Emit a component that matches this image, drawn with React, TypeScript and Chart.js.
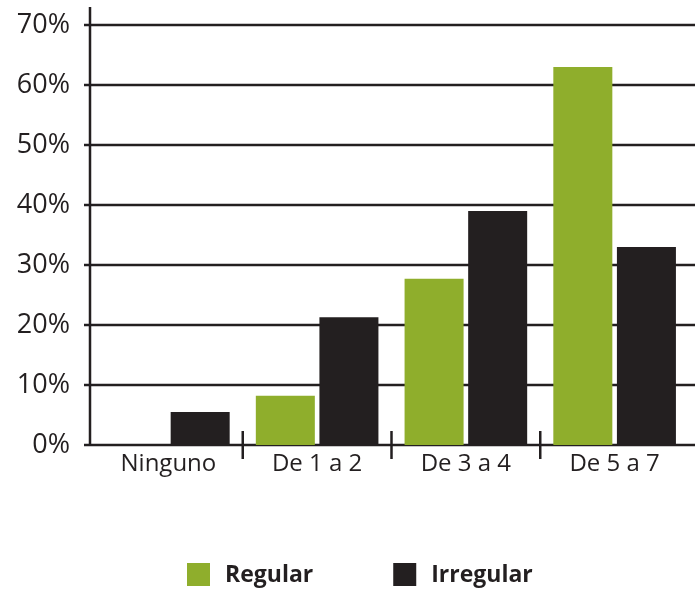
import React, { useEffect, useRef } from "react";
import { Chart, registerables } from "chart.js";

Chart.register(...registerables);

const categories = ["Ninguno", "De 1 a 2", "De 3 a 4", "De 5 a 7"];
const regularValues = [0, 8.2, 27.7, 63.0];
const irregularValues = [5.5, 21.3, 39.0, 33.0];
const yTickValues = [0, 10, 20, 30, 40, 50, 60, 70];
const seriesNames = ["Regular", "Irregular"];
const seriesColors = ["#8fae2c", "#231f20"];

const INK = "#231f20";
const FONT = "'Open Sans', 'Noto Sans', sans-serif";

const framePlugin = {
  id: "frame",
  beforeDatasetsDraw(chart: any) {
    const { ctx, chartArea, scales } = chart;
    const y = scales.y;
    const x = scales.x;
    ctx.save();
    ctx.strokeStyle = INK;
    ctx.lineWidth = 2.5;
    yTickValues.forEach((v) => {
      const py = Math.round(y.getPixelForValue(v));
      ctx.beginPath();
      ctx.moveTo(chartArea.left - 10, py);
      ctx.lineTo(chart.width, py);
      ctx.stroke();
    });
    const ax = chartArea.left - 4;
    ctx.beginPath();
    ctx.moveTo(ax, chartArea.top - 1);
    ctx.lineTo(ax, y.getPixelForValue(0) + 1);
    ctx.stroke();
    const base = y.getPixelForValue(0);
    for (let i = 1; i < categories.length; i++) {
      const px = (x.getPixelForValue(i - 1) + x.getPixelForValue(i)) / 2;
      ctx.beginPath();
      ctx.moveTo(px, base - 14);
      ctx.lineTo(px, base + 14);
      ctx.stroke();
    }
    ctx.restore();
  },
};

const legendPlugin = {
  id: "bottomLegend",
  afterDraw(chart: any) {
    const { ctx } = chart;
    const box = 23;
    const gapText = 15;
    const gapItems = 80;
    ctx.save();
    ctx.font = `bold 23px ${FONT}`;
    ctx.textBaseline = "middle";
    ctx.textAlign = "left";
    const items = chart.data.datasets.map((d: any) => ({
      label: d.label,
      color: d.backgroundColor,
      w: box + gapText + ctx.measureText(d.label).width,
    }));
    let px = 187;
    const cy = 574.5;
    items.forEach((it: any) => {
      ctx.fillStyle = it.color;
      ctx.fillRect(px, cy - box / 2, box, box);
      ctx.fillStyle = INK;
      ctx.fillText(it.label, px + box + gapText, cy + 1);
      px += it.w + gapItems;
    });
    ctx.restore();
  },
};

export default function App() {
  const ref = useRef<HTMLCanvasElement | null>(null);

  useEffect(() => {
    if (!ref.current) return;
    const chart = new Chart(ref.current, {
      type: "bar",
      data: {
        labels: categories,
        datasets: [
          {
            label: seriesNames[0],
            data: regularValues,
            backgroundColor: seriesColors[0],
            borderWidth: 0,
          },
          {
            label: seriesNames[1],
            data: irregularValues,
            backgroundColor: seriesColors[1],
            borderWidth: 0,
          },
        ],
      },
      options: {
        animation: false,
        responsive: true,
        maintainAspectRatio: false,
        layout: { padding: { top: 8, right: 6, bottom: 111, left: 0 } },
        datasets: {
          bar: { categoryPercentage: 0.855, barPercentage: 0.928 },
        },
        plugins: {
          legend: { display: false },
          tooltip: { enabled: false },
        },
        scales: {
          x: {
            type: "category",
            offset: true,
            grid: { display: false, drawTicks: false },
            border: { display: false },
            ticks: {
              color: INK,
              font: { family: FONT, size: 24 },
              padding: 5,
              maxRotation: 0,
              autoSkip: false,
            },
            afterFit(s: any) {
              s.height = 40;
              s.paddingLeft = 0;
              s.paddingRight = 0;
            },
          },
          y: {
            type: "linear",
            min: 0,
            max: 72.83,
            grid: { display: false, drawTicks: false },
            border: { display: false },
            afterBuildTicks(s: any) {
              s.ticks = yTickValues.map((v) => ({ value: v }));
            },
            ticks: {
              color: INK,
              font: { family: FONT, size: 27 },
              padding: 24,
              callback: (v: any) => `${v}%`,
            },
            afterFit(s: any) {
              s.width = 94;
              s.paddingTop = 0;
              s.paddingBottom = 0;
            },
          },
        },
      },
      plugins: [framePlugin, legendPlugin],
    });
    return () => chart.destroy();
  }, []);

  return (
    <div
      style={{
        position: "absolute",
        left: 0,
        top: 0,
        width: 695,
        height: 596,
        background: "#fff",
      }}
    >
      <canvas ref={ref} />
    </div>
  );
}
